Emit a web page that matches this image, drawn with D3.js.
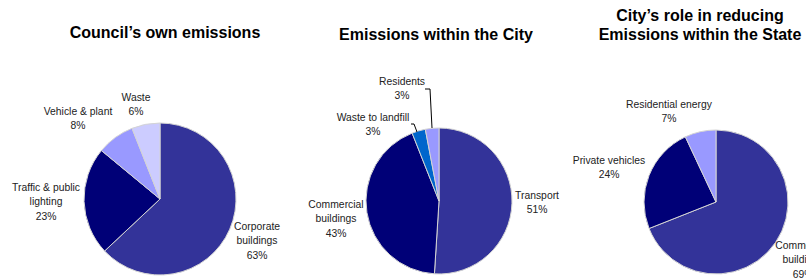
<!DOCTYPE html>
<html>
<head>
<meta charset="utf-8">
<script src="https://cdn.jsdelivr.net/npm/d3@7"></script>
<style>
  body { margin: 0; background: #fff; }
  .title { font-family: Arial, "Liberation Sans", sans-serif; font-weight: bold; font-size: 16px; fill: #000; }
  .lbl { font-family: Arial, "Liberation Sans", sans-serif; font-size: 11.5px; fill: #222; }
</style>
</head>
<body>
<div id="chart"></div>
<script>
// chart data
var councilCats = ["Corporate buildings", "Traffic & public lighting", "Vehicle & plant", "Waste"];
var councilVals = [63, 23, 8, 6];

var cityCats = ["Transport", "Commercial buildings", "Waste to landfill", "Residents"];
var cityVals = [51, 43, 3, 3];

var stateCats = ["Commercial buildings", "Private vehicles", "Residential energy"];
var stateVals = [69, 24, 7];

var titles = [
    ["Council\u2019s own emissions"],
    ["Emissions within the City"],
    ["City\u2019s role in reducing", "Emissions within the State"]
];

var width = 806, height = 279;

var svg = d3.select("#chart").append("svg")
    .attr("width", width)
    .attr("height", height);

// the labels use a narrow face: squeeze regular Arial to the width seen in the picture
var probe = svg.append("text").attr("class", "lbl").text("Traffic & public");
var squeeze = 68 / probe.node().getComputedTextLength();
probe.remove();

// layout for each pie: centre, radius, title position, label lines and positions
var charts = [
    {
        cats: councilCats, vals: councilVals,
        colors: ["#333399", "#000077", "#9999ff", "#ccccff"],
        cx: 160, cy: 199, r: 76,
        tx: 165, ty: 38,
        labels: [
            { lines: ["Corporate", "buildings", "63%"], x: 257, y: 230 },
            { lines: ["Traffic & public", "lighting", "23%"], x: 46, y: 191 },
            { lines: ["Vehicle & plant", "8%"], x: 78, y: 115 },
            { lines: ["Waste", "6%"], x: 136, y: 101 }
        ]
    },
    {
        cats: cityCats, vals: cityVals,
        colors: ["#333399", "#000077", "#0066cc", "#9999ff"],
        cx: 439, cy: 201, r: 73,
        tx: 436, ty: 40,
        labels: [
            { lines: ["Transport", "51%"], x: 537, y: 199 },
            { lines: ["Commercial", "buildings", "43%"], x: 336, y: 208 },
            { lines: ["Waste to landfill", "3%"], x: 373, y: 121, leader: [[411, 124], [414, 124], [417, 132]] },
            { lines: ["Residents", "3%"], x: 402, y: 85, leader: [[425, 89], [430, 89], [432, 128]] }
        ]
    },
    {
        cats: stateCats, vals: stateVals,
        colors: ["#333399", "#000077", "#9999ff"],
        cx: 716, cy: 202, r: 72,
        tx: 700, ty: 21,
        labels: [
            { lines: ["Commercial", "buildings", "69%"], x: 803, y: 249 },
            { lines: ["Private vehicles", "24%"], x: 609, y: 164 },
            { lines: ["Residential energy", "7%"], x: 669, y: 108 }
        ]
    }
];

var pie = d3.pie().sort(null).value(function(d) { return d; });

charts.forEach(function(c, i) {
    var g = svg.append("g")
        .attr("transform", "translate(" + c.cx + "," + c.cy + ")");

    var arc = d3.arc().innerRadius(0).outerRadius(c.r);

    g.selectAll("path")
        .data(pie(c.vals))
        .enter()
        .append("path")
        .attr("d", arc)
        .style("fill", function(d, j) { return c.colors[j]; })
        .style("stroke", "#d4d4d4")
        .style("stroke-width", 1);

    // title
    var t = svg.append("text")
        .attr("class", "title")
        .attr("text-anchor", "middle")
        .attr("x", c.tx)
        .attr("y", c.ty);
    titles[i].forEach(function(line, k) {
        t.append("tspan")
            .attr("x", c.tx)
            .attr("dy", k === 0 ? 0 : 19)
            .text(line);
    });

    // slice labels
    c.labels.forEach(function(l) {
        var txt = svg.append("g")
            .attr("transform", "translate(" + l.x + "," + l.y + ") scale(" + squeeze + ",1)")
            .append("text")
            .attr("class", "lbl")
            .attr("text-anchor", "middle");
        l.lines.forEach(function(line, k) {
            txt.append("tspan")
                .attr("x", 0)
                .attr("dy", k === 0 ? 0 : 14.5)
                .text(line);
        });
        if (l.leader) {
            svg.append("path")
                .attr("d", d3.line()(l.leader))
                .style("fill", "none")
                .style("stroke", "#000")
                .style("stroke-width", 1);
        }
    });
});
</script>
</body>
</html>
